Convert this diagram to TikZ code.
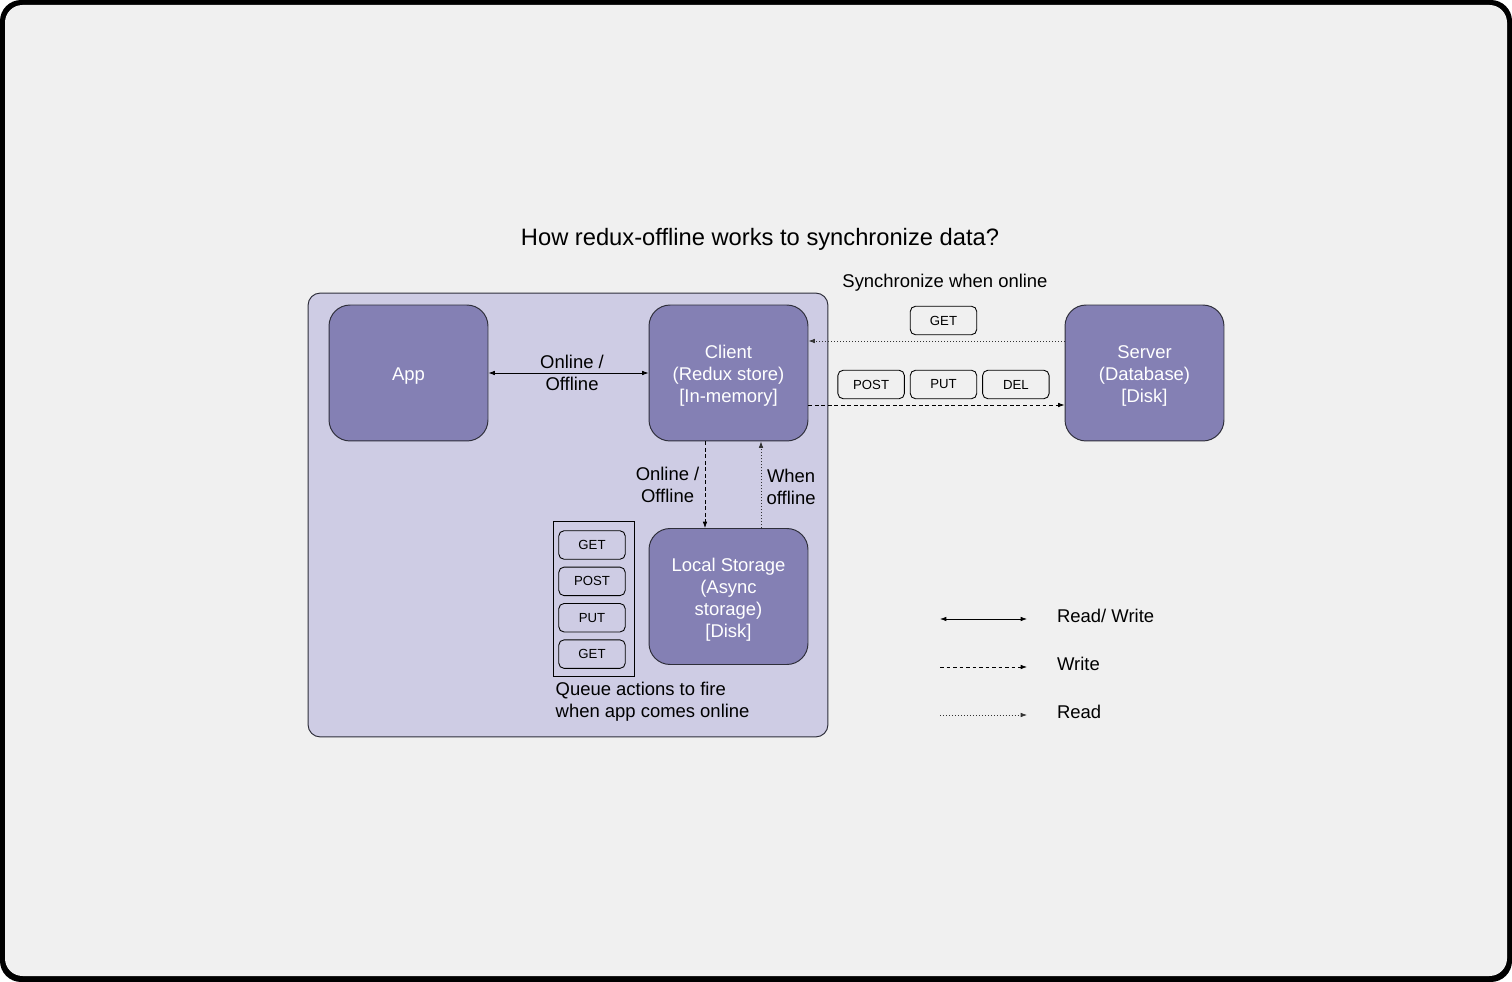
\documentclass[tikz,border=0pt]{standalone}
\usepackage{fontspec}
\setmainfont{Liberation Sans}
\usetikzlibrary{positioning,arrows.meta,calc}
\definecolor{panelbg}{HTML}{F0F0F0}
\definecolor{grpfill}{HTML}{CECCE4}
\definecolor{sysfill}{HTML}{8480B4}
\definecolor{sysedge}{HTML}{2E2E3A}
\newcommand{\tstrut}{\rule{0pt}{11pt}}
\tikzset{
  >={Latex[length=3.6pt,width=2.6pt]},
  lbl/.style={font=\fontsize{10.5}{12.5}\selectfont,align=center,inner sep=1pt,text=black},
  ttl/.style={font=\fontsize{13.5}{16}\selectfont,inner sep=1pt},
  sysbox/.style={draw=sysedge,fill=sysfill,line width=0.55pt,rounded corners=12pt,
    minimum width=3.18cm,minimum height=2.72cm,text=white,align=center,
    font=\fontsize{10.5}{12.5}\selectfont},
  grpbox/.style={draw=sysedge,fill=grpfill,line width=0.55pt,rounded corners=7pt,
    minimum width=10.4cm,minimum height=8.88cm},
  qbox/.style={draw=black,line width=0.5pt,minimum width=1.62cm,minimum height=3.1cm},
  opbox/.style={draw=black,line width=0.5pt,rounded corners=3pt,minimum width=1.33cm,
    minimum height=0.57cm,inner sep=1pt,font=\fontsize{7.5}{9}\selectfont},
  rw/.style={<->,line width=0.45pt},
  wr/.style={->,line width=0.45pt,dash pattern=on 2.2pt off 1.5pt},
  rd/.style={->,line width=0.45pt,draw=black!80,dash pattern=on 0.5pt off 1.2pt},
}
\begin{document}
\begin{tikzpicture}[x=0.02cm,y=-0.02cm]
  \useasboundingbox (0,0) rectangle (1512,982);
  % frame
  \fill[black,rounded corners=12pt] (0,0) rectangle (1512,982);
  \fill[panelbg,rounded corners=10pt] (5,5) rectangle (1507,976);

  \node[ttl] (title) at (760,239) {How redux-offline works to synchronize data?};

  % device side
  \node[grpbox] (device) at (568,515) {};
  \node[sysbox] (app) at (408.5,373) {\tstrut App};
  \node[sysbox] (client) at (728.5,373) {\tstrut Client\\(Redux store)\\{}[In-memory]};
  \node[sysbox] (local) at (728.5,596.5) {\tstrut Local Storage\\(Async\\storage)\\{}[Disk]};
  \node[sysbox] (server) at (1144.5,373) {\tstrut Server\\(Database)\\{}[Disk]};

  % queued actions
  \node[qbox] (queue) at (593.5,598.5) {};
  \node[opbox] (q1) at (592,545) {GET};
  \node[opbox,below=0.14cm of q1] (q2) {POST};
  \node[opbox,below=0.14cm of q2] (q3) {PUT};
  \node[opbox,below=0.14cm of q3] (q4) {GET};
  \node[lbl,align=left,anchor=north west] (qtxt) at ($(queue.south west)+(1,4)$)
    {Queue actions to fire\\when app comes online};

  % sync
  \node[lbl] (sync) at (945,283) {Synchronize when online};
  \node[opbox] (sget) at (943.5,320.5) {GET};
  \node[opbox] (sput) at (943.5,384.5) {PUT};
  \node[opbox,left=0.1cm of sput] (spost) {POST};
  \node[opbox,right=0.1cm of sput] (sdel) {DEL};

  \draw[rw] (app) -- node[lbl,xshift=2pt] {Online /\\Offline} (client);
  \draw[rd] ($(server.west)+(0,-32)$) -- ($(client.east)+(0,-32)$);
  \draw[wr] ($(client.east)+(0,32)$) -- ($(server.west)+(0,32)$);
  \draw[wr] ($(client.south)+(-23.5,0)$) -- node[lbl,left=2pt] {Online /\\Offline}
    ($(local.north)+(-23.5,0)$);
  \draw[rd] ($(local.north)+(32.5,0)$) -- node[lbl,right=2pt,yshift=-1pt] {When\\offline}
    ($(client.south)+(32.5,0)$);

  % legend
  \coordinate (l1a) at (940,619);
  \coordinate (l1b) at (1027,619);
  \coordinate (l2a) at (940,667);
  \coordinate (l2b) at (1027,667);
  \coordinate (l3a) at (940,715);
  \coordinate (l3b) at (1027,715);
  \draw[rw] (l1a) -- (l1b);
  \draw[wr] (l2a) -- (l2b);
  \draw[rd] (l3a) -- (l3b);
  \node[lbl,anchor=west] (lrw) at (1055,616) {Read/ Write};
  \node[lbl,anchor=west] (lwr) at (1055,664) {Write};
  \node[lbl,anchor=west] (lrd) at (1055,712) {Read};
\end{tikzpicture}
\end{document}
